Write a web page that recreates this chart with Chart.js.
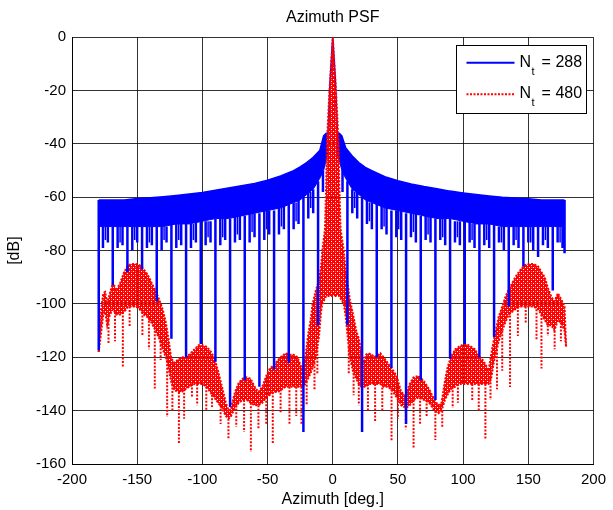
<!DOCTYPE html>
<html>
<head>
<meta charset="utf-8">
<title>Azimuth PSF</title>
<script src="https://cdn.jsdelivr.net/npm/chart.js@4.4.1/dist/chart.umd.min.js"></script>
<style>
  html, body { margin: 0; padding: 0; background: #fff; }
  #wrap { width: 613px; height: 510px; }
</style>
</head>
<body>
<div id="wrap"><canvas id="psf" width="613" height="510"></canvas></div>
<script>
// ---- data ----
const xTicks = [-200, -150, -100, -50, 0, 50, 100, 150, 200];
const yTicks = [-160, -140, -120, -100, -80, -60, -40, -20, 0];
const legendNames = ['288', '480'];

// Nt = 288 (blue): upper envelope and lower edge of the dense band
const blueX = [
  -179.5, -170, -160, -150, -140, -130, -120, -110, -100, -90,
  -80, -70, -60, -50, -40, -30, -25, -20, -15, -10,
  -7, -5, -3.6, -2, 0, 2, 3.6, 5, 7, 10,
  15, 20, 25, 30, 40, 50, 60, 70, 80, 90,
  100, 110, 120, 130, 140, 150, 160, 170, 177.8
];
const blueTop = [
  -61, -61, -61, -60.5, -60.2, -59.8, -59.3, -58.8, -58.2, -57.4,
  -56.5, -55.7, -54.8, -53.6, -52, -50, -48.6, -47, -45, -42.5,
  -37, -36, -36, -16, 0, -16, -36, -36, -37, -41.5,
  -44.5, -47, -48.8, -50, -52.3, -53.8, -55, -56, -56.8, -57.7,
  -58.4, -59, -59.5, -60, -60.3, -60.6, -61, -61, -61
];
const blueBand = [
  -71, -71, -71, -71, -71, -71, -70, -70, -69, -68,
  -68, -67, -66, -65, -64, -62, -61, -59, -57, -53,
  -50, -46, -44, -20, -1, -20, -44, -46, -50, -53,
  -57, -59, -61, -62, -64, -65, -66, -67, -68, -68,
  -69, -70, -70, -71, -71, -71, -71, -71, -71
];
// blue nulls: position, where the dip leaves the band, how deep it goes
const blueDipX = [
  -179.5, -176.25, -172.5, -168.75, -165, -161.25, -157.5, -153.75, -150,
  -146.25, -142.5, -138.75, -135, -131.25, -127.5, -123.75, -120, -116.25,
  -112.5, -108.75, -105, -101.25, -97.5, -93.75, -90, -86.25, -82.5,
  -78.75, -75, -71.25, -67.5, -63.75, -60, -56.25, -52.5, -48.75,
  -45, -41.25, -37.5, -33.75, -30, -26.25, -22.5, -18.75, -15,
  -11.25, -7.5, 7.5, 11.25,
  15, 18.75, 22.5, 26.25, 30, 33.75, 37.5, 41.25, 45,
  48.75, 52.5, 56.25, 60, 63.75, 67.5, 71.25, 75, 78.75,
  82.5, 86.25, 90, 93.75, 97.5, 101.25, 105, 108.75, 112.5,
  116.25, 120, 123.75, 127.5, 131.25, 135, 138.75, 142.5, 146.25,
  150, 153.75, 157.5, 161.25, 165, 168.75, 172.5, 176.25, 177.8
];
const blueDipFrom = [
  -61, -71, -71, -71, -71, -71, -71, -71, -71,
  -71, -71, -71, -71, -71, -71, -70, -70, -70,
  -70, -70, -69, -69, -69, -69, -68, -68, -68,
  -68, -67, -67, -67, -66, -66, -66, -65, -65,
  -65, -64, -63, -62, -62, -61, -60, -58, -57,
  -54, -50, -50, -54,
  -57, -58, -60, -61, -62, -62, -63, -64, -65,
  -65, -65, -66, -66, -66, -67, -67, -67, -68,
  -68, -68, -68, -69, -69, -69, -69, -70, -70,
  -70, -70, -70, -71, -71, -71, -71, -71, -71,
  -71, -71, -71, -71, -71, -71, -71, -71, -61
];
const blueDipTo = [
  -117.4, -79, -77, -93, -79, -78, -88, -80, -77,
  -87, -79, -78, -99, -80, -77, -113, -79, -78,
  -120, -79, -77, -115, -78, -77, -121.7, -78, -76,
  -138.6, -77, -76, -128.6, -77, -75, -131, -76, -74,
  -124.5, -74, -72, -122, -72, -70, -148, -68, -66,
  -108, -58, -58, -108,
  -66, -68, -148, -70, -72, -120, -72, -74, -124,
  -75, -76, -145, -75, -77, -128.6, -76, -77, -136,
  -76, -78, -120.5, -77, -78, -115, -77, -79, -120,
  -78, -79, -112.4, -77, -80, -101, -78, -79, -86,
  -77, -80, -82.4, -78, -79, -95, -77, -79, -81
];
// shallower comb lines half way between the nulls
const blueCombX = [
  -174.375, -163.125, -151.875, -140.625, -129.375, -118.125, -106.875, -95.625,
  -84.375, -73.125, -61.875, -50.625, -39.375, -28.125, -16.875,
  16.875, 28.125, 39.375, 50.625, 61.875, 73.125, 84.375, 95.625,
  106.875, 118.125, 129.375, 140.625, 151.875, 163.125, 174.375
];
const blueCombFrom = [
  -71, -71, -71, -71, -71, -70, -70, -69,
  -68, -67, -66, -65, -64, -62, -58,
  -58, -62, -64, -65, -66, -67, -68, -69,
  -70, -70, -71, -71, -71, -71, -71
];
const blueCombTo = [
  -76, -77, -76, -77, -76, -76, -76, -75,
  -75, -74, -73, -72, -71, -69, -64,
  -64, -69, -71, -72, -73, -74, -75, -75,
  -76, -76, -77, -76, -77, -76, -77
];

// Nt = 480 (red): upper envelope and lower edge of the dotted band
const redX = [
  -179.5, -178, -176, -174.5, -173, -171, -168.5, -166, -163, -160,
  -157, -154, -151, -148, -145, -142, -139, -136, -133, -130.5,
  -128, -126, -124, -122, -119, -116, -113, -110, -106, -103,
  -100, -97, -94, -91, -88, -85, -82, -80, -78, -75,
  -72, -69, -66, -63, -60, -57, -54, -51, -48, -45,
  -42, -39, -36, -33, -30, -27, -24, -21, -19, -17,
  -15.5, -13, -10.5, -9, -8, -6, -5, -4.5, -2.5, 0,
  2.5, 4.5, 5, 6, 8.5, 10, 11, 13, 16, 18,
  20, 22, 23.7, 25.5, 27.5, 30, 32, 34, 36.5, 39,
  42, 45, 49, 52.5, 56, 59, 62, 66, 70, 74,
  78, 81, 83.5, 86, 88, 90.5, 94, 97, 100, 103,
  106, 109, 112, 115, 117, 119.5, 121.5, 123.5, 125.5, 127.2,
  130, 132.3, 135, 137.4, 140, 143.7, 147, 151, 154, 157.6,
  160, 162.6, 165, 167.7, 170, 172.7, 175, 177.8, 179
];
const redTop = [
  -118, -103, -96, -95.5, -100, -96, -92, -95, -92, -88,
  -85.5, -85, -85, -85.5, -87, -89, -92, -95, -98.5, -102,
  -107, -113, -120, -122, -121, -120, -120, -119, -117, -115.5,
  -115.5, -116, -117.5, -120, -125, -131, -137, -140, -139, -133,
  -129.5, -128, -127.5, -128, -131, -133, -131, -127, -124, -123,
  -121, -119.5, -118.5, -119, -119, -120, -124, -120, -112, -106,
  -100, -95, -91, -86, -80, -72, -55, -40, -20, 0,
  -20, -40, -55, -72, -80, -88, -91, -98, -105, -110,
  -113, -118, -122, -119, -118.5, -119, -120, -119, -118.5, -120,
  -122, -124, -127, -133, -134.5, -130, -127.5, -127, -129, -132,
  -136, -138, -137, -129, -124, -120, -117, -116, -115.2, -115.2,
  -116, -117, -119.5, -121, -122.5, -125, -119, -113.6, -109, -105,
  -101, -97.5, -94.5, -92.4, -90, -87.4, -85.5, -85, -85, -86,
  -88, -90, -94, -97.4, -99, -96, -98, -101, -116
];
const redBand = [
  -118, -112, -104, -103, -108, -104, -102, -104, -104, -103,
  -101, -101, -101, -102, -104, -105, -107, -110, -113, -117,
  -120, -124, -129, -132, -133, -133, -132, -131, -130, -130,
  -130, -131, -133, -135, -137, -139, -142, -143, -142, -139,
  -137, -136, -136, -137, -138, -138, -137, -135, -134, -133,
  -133, -132, -131, -131, -131, -131, -131, -130, -128, -126,
  -124, -120, -112, -103, -100, -98, -97, -97, -97, -97,
  -97, -97, -97, -98, -100, -105, -110, -120, -126, -128,
  -130, -131, -131, -131, -130, -130, -130, -130, -130, -131,
  -131, -132, -135, -138, -139, -138, -136, -135, -136, -137,
  -140, -141, -140, -136, -134, -132, -131, -130, -130, -130,
  -130, -130, -130, -130, -130, -130, -128, -122, -118, -114,
  -110, -107, -104, -103, -102, -101, -101, -101, -101, -102,
  -104, -106, -108, -108, -110, -106, -107, -110, -116
];
const redDipX = [
  -172, -167, -161, -155.8, -146, -141, -136.5, -132, -127, -123,
  -118, -114, -108, -104, -97, -92.6, -86, -80, -74, -68,
  -62.8, -57, -51, -46, -40, -33.2, -28, -24, -20, -14, -11.8,
  12.3, 16, 20, 27, 32.5, 38, 45.1, 50, 56, 62,
  67, 72, 78.7, 84, 92, 96, 107, 112, 117.1, 121,
  126, 130, 136, 142, 148, 156.3, 160.1, 165, 170.2, 175
];
const redDipFrom = [
  -106, -103, -103, -101, -103, -105, -110, -114, -120, -130,
  -133, -132, -130, -130, -131, -134, -138, -143, -138, -136,
  -137, -138, -135, -133, -132, -131, -131, -131, -129, -122, -116,
  -116, -126, -130, -130, -130, -130, -132, -135, -139, -136,
  -135, -136, -140, -140, -131, -130, -130, -130, -130, -128,
  -117, -110, -103, -101, -101, -102, -104, -108, -110, -107
];
const redDipTo = [
  -115, -114, -123.6, -108.6, -112, -117, -131.7, -121, -142.4, -140,
  -152.5, -143, -135, -138, -140, -138.6, -145, -150.4, -146, -148,
  -155.5, -147, -145, -152.4, -141, -144.9, -142, -145, -138, -132, -126,
  -126, -134.2, -138, -140, -144.2, -140, -151.1, -143, -147, -154.2,
  -145, -142, -151, -146, -139, -137, -136, -140, -151, -136,
  -132, -125, -131.1, -112, -107, -113.6, -124.2, -112, -117, -114
];

// ---- helpers ----
const pts = (xs, ys) => xs.map((x, i) => ({ x: x, y: ys[i] }));

// each dip becomes its own vertical stroke, separated by a gap
function dips(xs, from, to) {
  const out = [];
  xs.forEach((x, i) => {
    out.push({ x: x, y: from[i] }, { x: x, y: to[i] }, { x: x, y: null });
  });
  return out;
}

// speckled red, like a thick dotted MATLAB line packed together
function dottedRed() {
  const c = document.createElement('canvas');
  c.width = 4;
  c.height = 4;
  const g = c.getContext('2d');
  g.fillStyle = 'rgb(255,0,0)';
  g.fillRect(0, 0, 4, 4);
  g.clearRect(3, 1, 1, 1);
  g.clearRect(1, 3, 1, 1);
  g.fillStyle = 'rgba(255,90,90,1)';
  g.fillRect(3, 3, 1, 1);
  return g.createPattern(c, 'repeat');
}

const BLUE = 'rgb(0,0,255)';
const RED = 'rgb(255,0,0)';
const FONT = '"Liberation Sans", Arial, Helvetica, sans-serif';

Chart.defaults.font.family = FONT;
Chart.defaults.color = '#000';

// legend in a boxed frame, MATLAB style, with subscript t
const boxLegend = {
	id: 'boxLegend',
	afterDraw(chart) {
		const ctx = chart.ctx;
		const area = chart.chartArea;
		const w = 130, h = 68;
		const left = area.right - 7 - w;
		const top = area.top + 8;
		ctx.save();
		ctx.fillStyle = '#fff';
		ctx.fillRect(left, top, w, h);
		ctx.strokeStyle = '#000';
		ctx.lineWidth = 1;
		ctx.strokeRect(Math.round(left) + 0.5, Math.round(top) + 0.5, w, h);

		const styles = [
			{ color: BLUE, dash: [] },
			{ color: RED, dash: [2, 1.5] }
		];
		legendNames.forEach((name, i) => {
			const lineY = top + 17.5 + i * 31.5;
			const base = top + 21.5 + i * 31.5;
			ctx.strokeStyle = styles[i].color;
			ctx.lineWidth = 2;
			ctx.setLineDash(styles[i].dash);
			ctx.beginPath();
			ctx.moveTo(left + 10, lineY);
			ctx.lineTo(left + 58, lineY);
			ctx.stroke();
			ctx.setLineDash([]);

			ctx.fillStyle = '#000';
			ctx.textBaseline = 'alphabetic';
			ctx.textAlign = 'left';
			let x = left + 63;
			ctx.font = '16px ' + FONT;
			ctx.fillText('N', x, base);
			x += ctx.measureText('N').width + 0.5;
			ctx.font = '11px ' + FONT;
			ctx.fillText('t', x, base + 8);
			x += ctx.measureText('t').width + 7;
			ctx.font = '16px ' + FONT;
			ctx.fillText('= ' + name, x, base);
		});
		ctx.restore();
	}
};

new Chart(document.getElementById('psf'), {
	type: 'line',
	data: {
		datasets: [
			{
				label: 'Nt = 288 top',
				data: pts(blueX, blueTop),
				borderColor: BLUE,
				borderWidth: 1.5,
				backgroundColor: BLUE,
				fill: 1,
				order: 8
			},
			{
				label: 'Nt = 288 band',
				data: pts(blueX, blueBand),
				borderColor: BLUE,
				borderWidth: 1,
				fill: false,
				order: 7
			},
			{
				label: 'Nt = 288 comb',
				data: dips(blueCombX, blueCombFrom, blueCombTo),
				borderColor: BLUE,
				borderWidth: 1.5,
				fill: false,
				spanGaps: false,
				order: 6
			},
			{
				label: 'Nt = 480 top',
				data: pts(redX, redTop),
				borderColor: RED,
				borderWidth: 2,
				borderDash: [2, 1.5],
				backgroundColor: dottedRed(),
				fill: 4,
				order: 4
			},
			{
				label: 'Nt = 480 band',
				data: pts(redX, redBand),
				borderColor: RED,
				borderWidth: 2,
				borderDash: [2, 1.5],
				fill: false,
				order: 3
			},
			{
				label: 'Nt = 480 nulls',
				data: dips(redDipX, redDipFrom, redDipTo),
				borderColor: RED,
				borderWidth: 2,
				borderDash: [2, 1.5],
				fill: false,
				spanGaps: false,
				order: 2
			},
			{
				label: 'Nt = 288 nulls',
				data: dips(blueDipX, blueDipFrom, blueDipTo),
				borderColor: BLUE,
				borderWidth: 2.5,
				fill: false,
				spanGaps: false,
				order: 1
			}
		]
	},
	options: {
		responsive: false,
		animation: false,
		devicePixelRatio: 1,
		events: [],
		elements: {
			point: { radius: 0 },
			line: { tension: 0 }
		},
		layout: {
			padding: { left: 0, right: 14, top: 0, bottom: 0 }
		},
		scales: {
			x: {
				type: 'linear',
				min: -200,
				max: 200,
				afterBuildTicks: (scale) => { scale.ticks = xTicks.map(v => ({ value: v })); },
				afterFit: (scale) => { scale.height = 46; },
				grid: { color: 'rgba(0,0,0,0.8)', lineWidth: 1, drawTicks: false },
				border: { display: true, color: '#000', width: 1 },
				ticks: { font: { size: 15 }, padding: 7, maxRotation: 0 },
				title: { display: true, text: 'Azimuth [deg.]', font: { size: 16 }, padding: { top: 0, bottom: 1 } }
			},
			y: {
				type: 'linear',
				min: -160,
				max: 0,
				afterBuildTicks: (scale) => { scale.ticks = yTicks.map(v => ({ value: v })); },
				afterFit: (scale) => { scale.width = 72; },
				grid: { color: 'rgba(0,0,0,0.8)', lineWidth: 1, drawTicks: false },
				border: { display: true, color: '#000', width: 1 },
				ticks: { font: { size: 15 }, padding: 6 },
				title: { display: true, text: '[dB]', font: { size: 16 }, padding: { top: 5, bottom: 0 } }
			}
		},
		plugins: {
			legend: { display: false },
			tooltip: { enabled: false },
			title: {
				display: true,
				text: 'Azimuth PSF',
				fullSize: false,
				color: '#000',
				font: { size: 16, weight: 'normal' },
				padding: { top: 8, bottom: 10 }
			}
		}
	},
	plugins: [boxLegend]
});
</script>
</body>
</html>
